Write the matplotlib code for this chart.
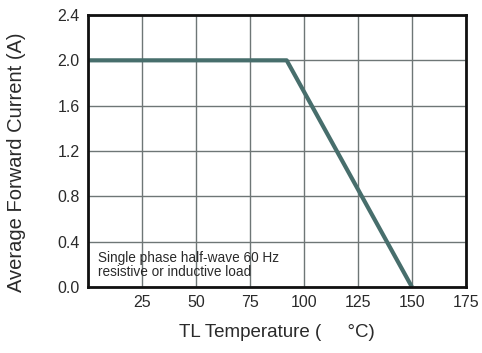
import numpy as np
import matplotlib
matplotlib.use("Agg")
import matplotlib.pyplot as plt

plt.rcParams['font.family'] = ['Liberation Sans', 'DejaVu Sans']

# derating curve
temp = [0, 92, 150]
current = [2.0, 2.0, 0.0]
xticks = [25, 50, 75, 100, 125, 150, 175]
yticks = [0.0, 0.4, 0.8, 1.2, 1.6, 2.0, 2.4]

fig = plt.figure(figsize=(4.82, 3.53), dpi=100)
ax = fig.add_axes([0.1826, 0.187, 0.784, 0.7705])

ax.set_xlim(0, 175)
ax.set_ylim(0, 2.4)
ax.set_xticks([0] + xticks)
ax.set_xticklabels([""] + [str(t) for t in xticks])
ax.set_yticks(yticks)
ax.set_yticklabels(["%.1f" % v for v in yticks])
ax.grid(True, color="#6e7676", linewidth=1.0)
ax.set_axisbelow(True)
ax.tick_params(length=0, labelsize=11.5, pad=6, colors="#2a2a2a")
for s in ax.spines.values():
    s.set_linewidth(2)
    s.set_color("#111111")

ax.plot(temp, current, color="#476e6c", linewidth=3, solid_capstyle="butt", clip_on=False)

ax.text(4.5, 0.26, "Single phase half-wave 60 Hz", fontsize=9.8, va="center", color="#2a2a2a")
ax.text(4.5, 0.13, "resistive or inductive load", fontsize=9.8, va="center", color="#2a2a2a")

ax.set_xlabel("TL Temperature (     °C)", fontsize=13.5, labelpad=10, color="#2a2a2a")
ax.set_ylabel("Average Forward Current (A)", fontsize=14.5, color="#2a2a2a")
ax.yaxis.set_label_coords(-0.165, 0.46)

fig.savefig("out.png", dpi=100)
